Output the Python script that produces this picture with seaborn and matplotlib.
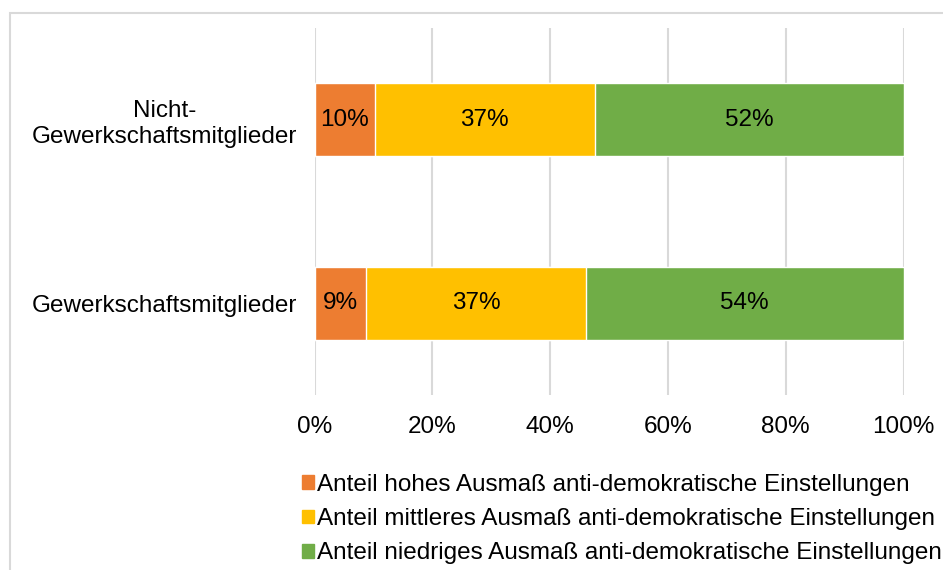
import warnings
warnings.filterwarnings("ignore")

import pandas as pd
import matplotlib.pyplot as plt
import matplotlib.patches as mpatches
import matplotlib.ticker as mticker
import seaborn as sns

sns.set_theme(style="white")
plt.rcParams["font.family"] = ["Liberation Sans", "DejaVu Sans"]

# data (shares in %)
groups = ["Nicht-\nGewerkschaftsmitglieder", "Gewerkschaftsmitglieder"]
hoch = [10.2, 8.7]
mittel = [37.4, 37.4]
niedrig = [52.4, 53.9]
series_labels = [
    "Anteil hohes Ausmaß anti-demokratische Einstellungen",
    "Anteil mittleres Ausmaß anti-demokratische Einstellungen",
    "Anteil niedriges Ausmaß anti-demokratische Einstellungen",
]
colors = ["#ED7D31", "#FFC000", "#70AD47"]

df = pd.DataFrame({"group": groups, "hoch": hoch, "mittel": mittel, "niedrig": niedrig})
df["cum1"] = df["hoch"]
df["cum2"] = df["hoch"] + df["mittel"]
df["cum3"] = df["cum2"] + df["niedrig"]

FS = 17.5

fig = plt.figure(figsize=(9.43, 5.7), dpi=100)
ax = fig.add_axes([314.5 / 943, 1 - 395 / 570, 589 / 943, 367 / 570])

# stacked bars drawn as overlapping cumulative bars
for col, c in zip(["cum3", "cum2", "cum1"], colors[::-1]):
    sns.barplot(data=df, x=col, y="group", order=groups, color=c,
                saturation=1, width=0.4, ax=ax, zorder=3)

# value labels in segment centres
for i, row in df.iterrows():
    starts = [0, row["cum1"], row["cum2"]]
    vals = [row["hoch"], row["mittel"], row["niedrig"]]
    for s, v in zip(starts, vals):
        ax.text(s + v / 2, i, f"{v:.0f}%", ha="center", va="center",
                fontsize=FS, color="black", zorder=4)

ax.set_xlim(0, 100)
ax.set_ylim(1.5, -0.5)
ax.xaxis.set_major_locator(mticker.MultipleLocator(20))
ax.xaxis.set_major_formatter(mticker.PercentFormatter(decimals=0))
ax.grid(axis="x", color="#d9d9d9", linewidth=1.5, zorder=0)
ax.grid(axis="y", visible=False)
ax.set_axisbelow(True)
ax.set_xlabel("")
ax.set_ylabel("")
for s in ax.spines.values():
    s.set_visible(False)
ax.tick_params(axis="x", length=0, pad=15, labelsize=FS, colors="black")
ax.tick_params(axis="y", length=0, pad=12.5, labelsize=FS, colors="black")
for lbl in ax.get_yticklabels():
    lbl.set_multialignment("center")

handles = [mpatches.Patch(color=c, label=l) for c, l in zip(colors, series_labels)]
fig.legend(handles=handles, loc="upper left", bbox_to_anchor=(302 / 943, 1 - 474 / 570),
           frameon=False, fontsize=FS, borderaxespad=0, borderpad=0, labelcolor="black",
           handlelength=0.5, handleheight=0.5, handletextpad=0.12, labelspacing=0.5)

# outer chart frame (runs off the right and bottom edge)
frame = mpatches.Rectangle((10 / 943, -0.1), 1.2, 1 - 13 / 570 + 0.1,
                           transform=fig.transFigure, fill=False,
                           edgecolor="#d9d9d9", linewidth=1.5)
fig.patches.append(frame)

fig.savefig("out.png", dpi=100)
